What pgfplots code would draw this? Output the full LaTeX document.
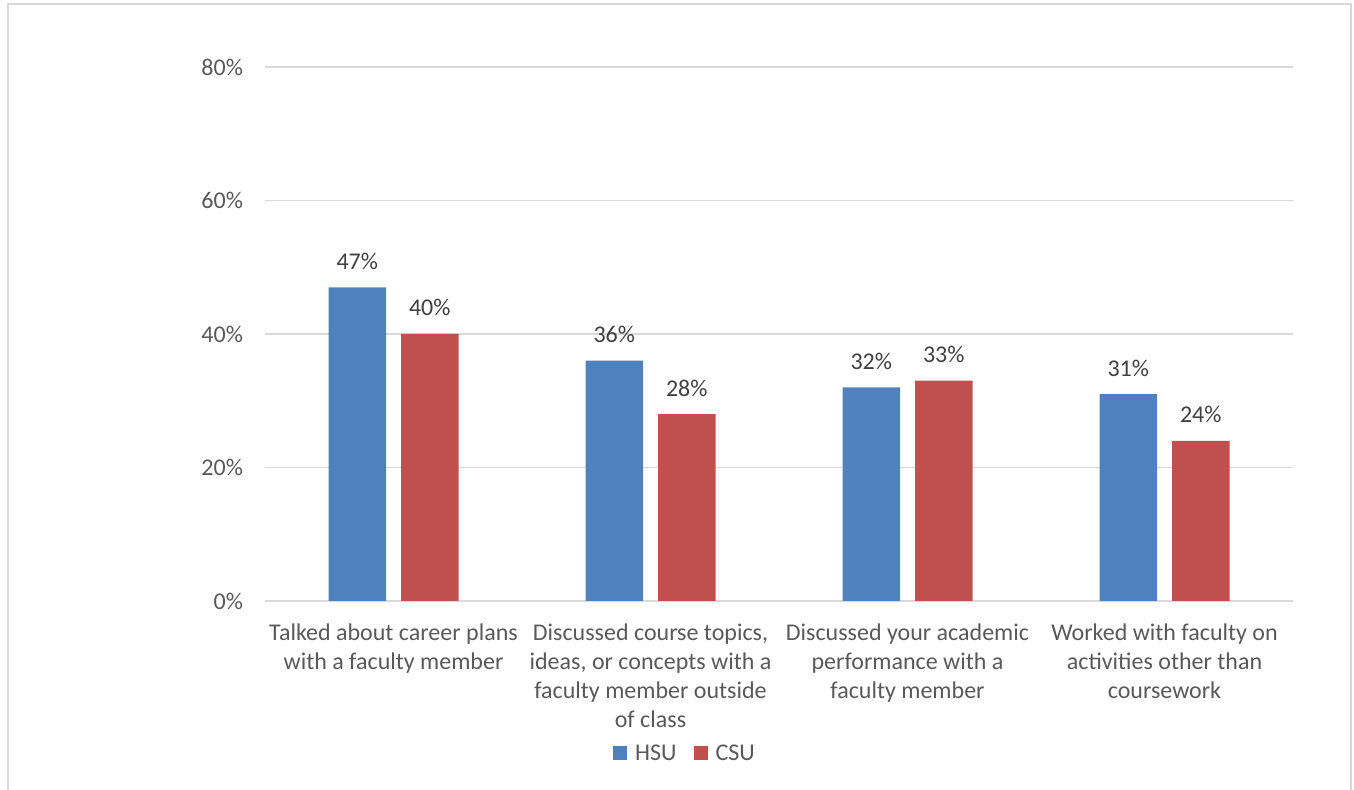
\documentclass[border=0pt]{standalone}
\usepackage{pgfplots}
\pgfplotsset{compat=1.18}
\usepackage{fontspec}
\setmainfont{Carlito}
\definecolor{hsu}{HTML}{4F81BD}
\definecolor{csu}{HTML}{C0504D}
\definecolor{gridc}{HTML}{D9D9D9}
\definecolor{tickc}{HTML}{595959}
\definecolor{labc}{HTML}{404040}
\begin{document}
\begin{tikzpicture}
\useasboundingbox (0,0) rectangle (677pt,395pt);
\draw[color=gridc, line width=1pt] (4pt,-2pt) -- (4pt,393pt) -- (675.5pt,393pt) -- (675.5pt,-2pt);
\begin{axis}[
  at={(132.5pt,94.5pt)}, anchor=south west,
  scale only axis, width=514pt, height=267pt,
  ymin=0, ymax=80, xmin=-0.5, xmax=3.5,
  ybar=7.5pt, bar width=28.75pt,
  ytick={0,20,40,60,80},
  yticklabel={\pgfmathprintnumber[assume math mode=true]{\tick}\%},
  yticklabel style={font=\fontsize{12}{14.5}\selectfont, text=tickc, xshift=-7.5pt},
  ymajorgrids, grid style={gridc, line width=0.75pt},
  axis line style={draw=none},
  tick style={draw=none},
  xtick={0,1,2,3},
  xticklabels={{Talked about career plans\\with a faculty member},
               {Discussed course topics,\\ideas, or concepts with a\\faculty member outside\\of class},
               {Discussed your academic\\performance with a\\faculty member},
               {Worked with faculty on\\activities other than\\coursework}},
  xticklabel style={align=center, font=\fontsize{12}{14.5}\selectfont, text=tickc, yshift=-3.5pt},
  nodes near coords={\pgfmathprintnumber[assume math mode=true]{\pgfplotspointmeta}\%},
  every node near coord/.append style={font=\fontsize{12}{14.5}\selectfont, text=labc, anchor=base, inner sep=0pt, yshift=9pt},
  legend columns=2,
  legend style={at={(axis description cs:0.4095,-0.2865)}, anchor=center, draw=none, fill=none,
    font=\fontsize{12}{14.5}\selectfont, text=tickc,
    /tikz/every even column/.append style={column sep=6.5pt},
    /tikz/every odd column/.append style={column sep=2pt}},
  legend image code/.code={\fill[#1] (0pt,-3.25pt) rectangle (7pt,3.75pt);},
]
\addplot[fill=hsu, draw=none] coordinates {(0,47) (1,36) (2,32) (3,31)};
\addplot[fill=csu, draw=none] coordinates {(0,40) (1,28) (2,33) (3,24)};
\legend{HSU,CSU}
\end{axis}
\end{tikzpicture}
\end{document}
